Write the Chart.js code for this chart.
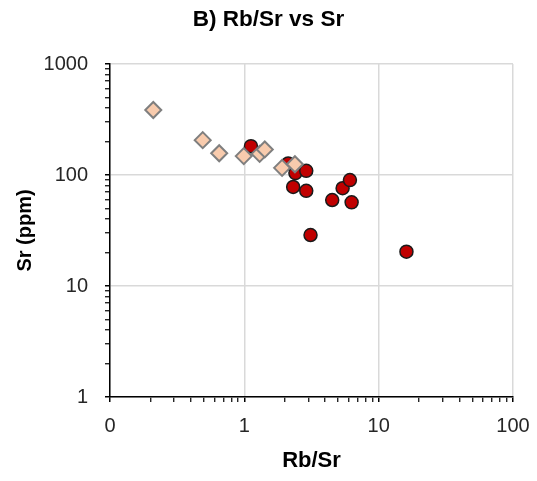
<!DOCTYPE html>
<html>
<head>
<meta charset="utf-8">
<script src="https://cdn.jsdelivr.net/npm/chart.js@4.4.1/dist/chart.umd.min.js"></script>
<style>
  html, body { margin: 0; padding: 0; background: #fff; }
  #wrap { width: 537px; height: 481px; }
</style>
</head>
<body>
<div id="wrap"><canvas id="grafico"></canvas></div>
<script>
// Muestras con alto Sr (rombos)
const rbsrRombos = [0.21, 0.49, 0.65, 0.99, 1.30, 1.42, 1.91, 2.38];
const srRombos   = [385, 206, 157, 148, 155, 170, 116, 125];

// Muestras con bajo Sr (círculos rojos)
const rbsrCirculos = [1.12, 2.12, 2.40, 2.89, 2.31, 2.89, 3.11, 4.51, 5.39, 6.11, 6.29, 16.1];
const srCirculos   = [182, 127, 104, 109, 78, 72, 28.8, 59.5, 76, 90, 56.7, 20.4];

// Marcas del eje (decadas + menores)
const ticksX = [0.1, 0.2, 0.3, 0.4, 0.5, 0.6, 0.7, 0.8, 0.9, 1, 2, 3, 4, 5, 6, 7, 8, 9, 10, 20, 30, 40, 50, 60, 70, 80, 90, 100];
const ticksY = [1, 2, 3, 4, 5, 6, 7, 8, 9, 10, 20, 30, 40, 50, 60, 70, 80, 90, 100, 200, 300, 400, 500, 600, 700, 800, 900, 1000];
const etiquetasX = { 0.1: '0', 1: '1', 10: '10', 100: '100' };
const etiquetasY = { 1: '1', 10: '10', 100: '100', 1000: '1000' };

const FUENTE = "'Liberation Sans', Arial, sans-serif";

function esDecada(v) {
    const l = Math.log10(v);
    return Math.abs(l - Math.round(l)) < 1e-9;
}

function armarPuntos(xs, ys) {
    return xs.map((x, i) => ({ x: x, y: ys[i] }));
}

function ejeLog(valores, etiquetas, padEtiqueta, altoLinea, extra) {
    return Object.assign({
        type: 'logarithmic',
        afterBuildTicks: (scale) => {
            scale.ticks = valores.map(v => ({ value: v, major: esDecada(v) }));
        },
        border: { color: '#000', width: 1.5 },
        grid: {
            color: ctx => (ctx.tick && esDecada(ctx.tick.value)) ? '#d9d9d9' : 'rgba(0,0,0,0)',
            lineWidth: 1.5,
            tickColor: '#000',
            tickWidth: ctx => (ctx.tick && esDecada(ctx.tick.value)) ? 1.5 : 1.2,
            tickLength: 5,
            drawTicks: true
        },
        ticks: {
            autoSkip: false,
            maxRotation: 0,
            padding: padEtiqueta,
            color: '#262626',
            font: { family: FUENTE, size: 20, lineHeight: altoLinea },
            callback: (v) => etiquetas[v] !== undefined ? etiquetas[v] : ''
        }
    }, extra);
}

const ctx = document.getElementById('grafico');

new Chart(ctx, {
    type: 'scatter',
    data: {
        datasets: [
            {
                label: 'Rombos',
                data: armarPuntos(rbsrRombos, srRombos),
                pointStyle: 'rectRot',
                pointRadius: 8,
                backgroundColor: '#f8cbad',
                borderColor: '#7f7f7f',
                borderWidth: 2
            },
            {
                label: 'Circulos',
                data: armarPuntos(rbsrCirculos, srCirculos),
                pointStyle: 'circle',
                pointRadius: 6.5,
                backgroundColor: '#c00000',
                borderColor: '#1a1a1a',
                borderWidth: 1.5
            }
        ]
    },
    options: {
        responsive: true,
        maintainAspectRatio: false,
        animation: false,
        layout: { padding: { left: 24, right: 24, top: 0, bottom: 0 } },
        plugins: {
            legend: { display: false },
            tooltip: { enabled: false },
            title: {
                display: true,
                text: 'B) Rb/Sr vs Sr',
                color: '#000',
                font: { family: FUENTE, size: 22.5, weight: 'bold', lineHeight: 1.2 },
                padding: { top: 6.5, bottom: 30.5 }
            }
        },
        scales: {
            x: ejeLog(ticksX, etiquetasX, 3, 2.1, {
                min: 0.1,
                max: 100,
                afterFit: (s) => { s.height = 84; },
                title: {
                    display: true,
                    text: 'Rb/Sr',
                    color: '#000',
                    font: { family: FUENTE, size: 22, weight: 'bold', lineHeight: 1.2 },
                    padding: { top: 0, bottom: 7 }
                }
            }),
            y: ejeLog(ticksY, etiquetasY, 17, 1.2, {
                min: 1,
                max: 1000,
                afterFit: (s) => { s.width = 86; },
                title: {
                    display: true,
                    text: 'Sr (ppm)',
                    color: '#000',
                    font: { family: FUENTE, size: 20, weight: 'bold', lineHeight: 1.2 },
                    padding: { top: -11, bottom: 0 }
                }
            })
        }
    }
});
</script>
</body>
</html>
